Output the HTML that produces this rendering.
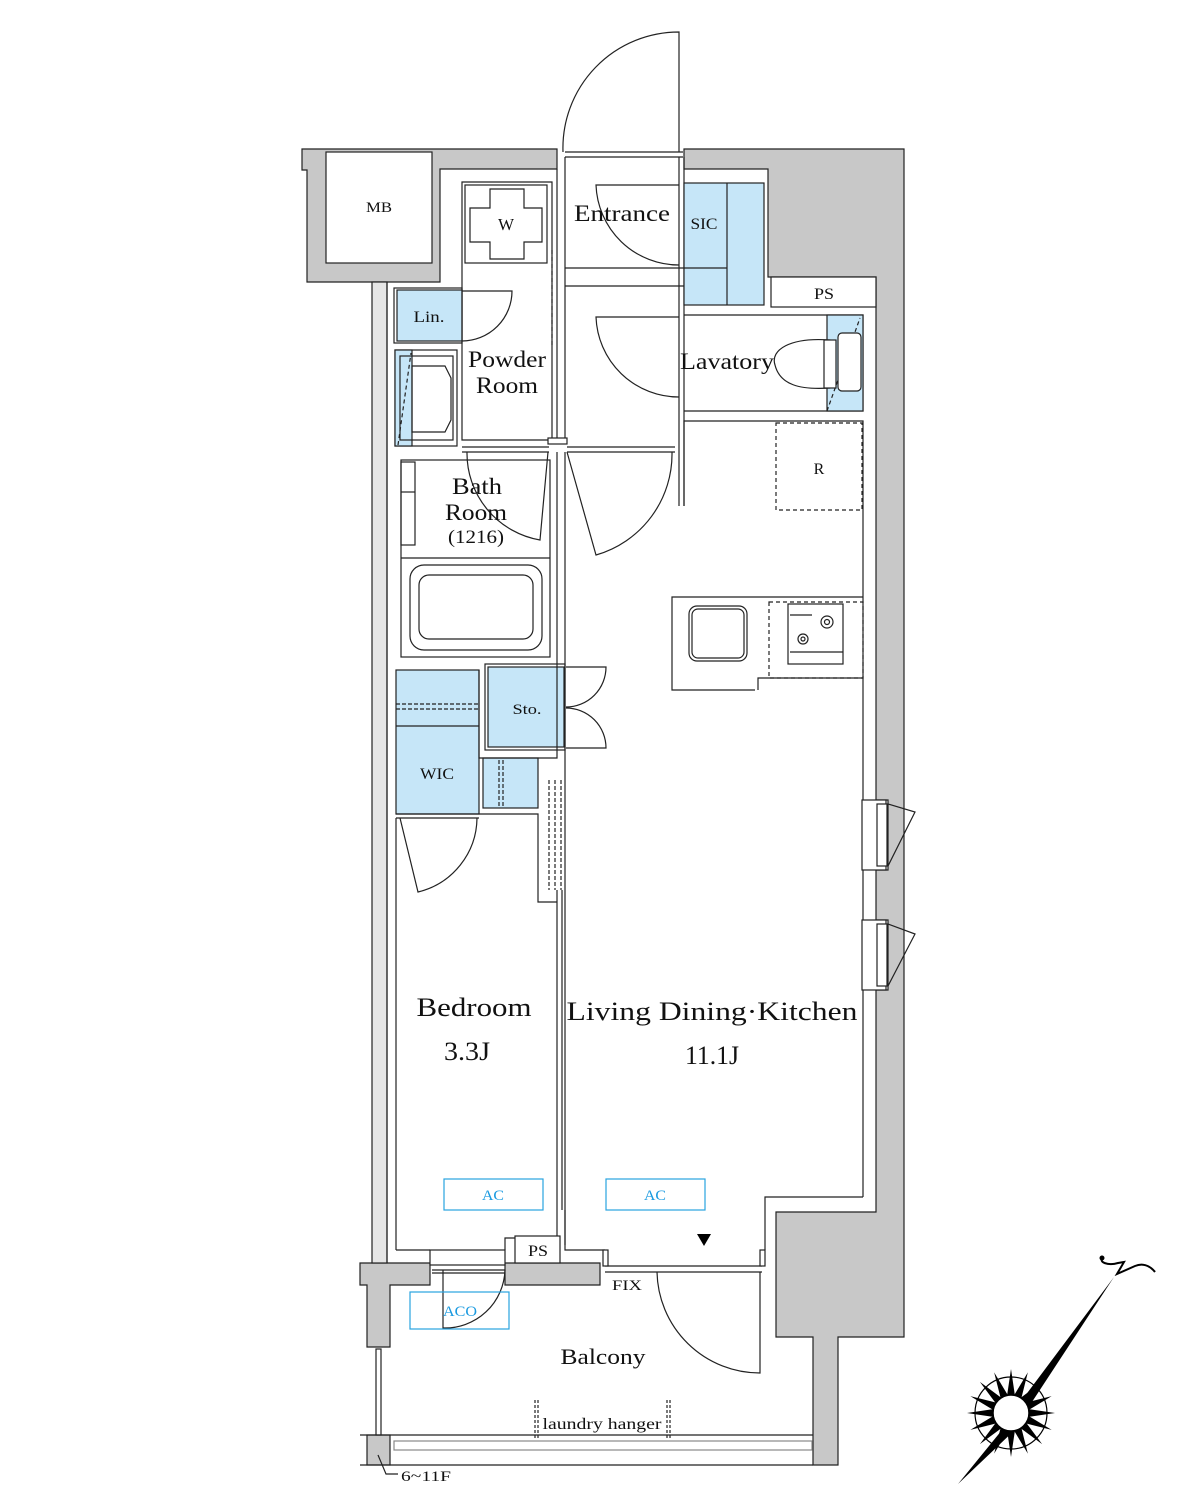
<!DOCTYPE html>
<html><head><meta charset="utf-8"><style>
html,body{margin:0;padding:0;background:#fff}
svg{display:block}
text{font-family:"Liberation Serif",serif;fill:#111}
</style></head><body>
<svg width="1200" height="1512" viewBox="0 0 1200 1512" xmlns="http://www.w3.org/2000/svg">
<g stroke="#222" stroke-width="1.2" fill="none">
<g fill="#c8c8c8">
<path d="M302,149 H557 V169 H440 V282 H307 V170 H302 Z"/>
<path d="M684,149 H904 V1337 H838 V1465 H813 V1337 H776 V1212 H876 V990 H888 V920 H876 V870 H888 V800 H876 V277 H768 V169 H684 Z"/>
<path d="M360,1263 H430 V1285 H390 V1347 H367 V1285 H360 Z"/>
<path d="M505,1263 H600 V1285 H505 Z"/>
<rect x="367" y="1435" width="23" height="30"/>
</g>
<rect x="326" y="152" width="106" height="111" fill="#fff"/>
<rect x="372" y="282" width="15" height="981" fill="#e6e6e6"/>
<line x1="565" y1="152" x2="683" y2="152"/><line x1="565" y1="157" x2="683" y2="157"/>
<path d="M679,152 V32 A116,116 0 0 0 563,152"/>
<line x1="565" y1="157" x2="565" y2="440"/><line x1="557" y1="169" x2="557" y2="440"/>
<line x1="565" y1="268" x2="684" y2="268"/><line x1="565" y1="286" x2="684" y2="286"/>
<line x1="679" y1="157" x2="679" y2="506"/><line x1="684" y1="157" x2="684" y2="506"/>
<path d="M679,185 H596 A83,83 0 0 0 679,265"/>
<path d="M679,317 H596 A83,83 0 0 0 679,397"/>
<rect x="684" y="183" width="80" height="122" fill="#c6e6f8"/>
<line x1="727" y1="183" x2="727" y2="305"/><line x1="684" y1="268" x2="727" y2="268"/>
<rect x="771" y="277" width="105" height="30" fill="#fff"/>
<path d="M684,315 H863 V411 H684"/>
<rect x="827" y="315" width="36" height="96" fill="#c6e6f8"/>
<line x1="827" y1="411" x2="860" y2="318" stroke-dasharray="4,3"/>
<path d="M830,340 C790,337 770,350 775,365 C780,385 800,390 830,388 Z" fill="#fff"/>
<rect x="824" y="340" width="12" height="48" fill="#fff"/>
<rect x="838" y="333" width="23" height="58" rx="4" fill="#fff"/>
<path d="M684,506 V421 H863 V597"/>
<rect x="776" y="423" width="86" height="87" stroke-dasharray="4,3"/>
<path d="M462,182 H552 V440 H462 Z"/>
<rect x="465" y="185" width="82" height="78"/>
<path d="M490,189 H524 V208 H542 V242 H524 V259 H490 V242 H470 V208 H490 Z"/>
<line x1="552" y1="250" x2="552" y2="345" stroke-dasharray="4,3"/>
<rect x="397" y="290" width="65" height="51" fill="#c6e6f8"/>
<rect x="394" y="288" width="68" height="55"/>
<path d="M462,291 H512 A50,50 0 0 1 462,341"/>
<rect x="395" y="350" width="62" height="96"/>
<rect x="395" y="350" width="17" height="96" fill="#c6e6f8"/>
<rect x="400" y="356" width="53" height="84"/>
<path d="M412,366 H445 L451,378 V420 L445,432 H412 Z"/>
<line x1="398" y1="445" x2="411" y2="353" stroke-dasharray="4,3"/>
<line x1="462" y1="447" x2="549" y2="447"/><line x1="462" y1="452" x2="549" y2="452"/>
<rect x="548" y="438" width="19" height="6" fill="#fff"/>
<line x1="567" y1="447" x2="675" y2="447"/><line x1="567" y1="452" x2="675" y2="452"/>
<path d="M567,452 L596,555 A105,105 0 0 0 672,452"/>
<rect x="401" y="460" width="149" height="197"/>
<rect x="401" y="462" width="14" height="83"/><line x1="401" y1="492" x2="415" y2="492"/>
<path d="M548,452 L540,540 A88,88 0 0 1 467,452"/>
<line x1="401" y1="558" x2="550" y2="558"/>
<rect x="410" y="565" width="132" height="85" rx="14"/>
<rect x="419" y="575" width="114" height="64" rx="10"/>
<line x1="557" y1="452" x2="557" y2="667"/><line x1="565" y1="452" x2="565" y2="1245"/>
<rect x="396" y="670" width="83" height="144" fill="#c6e6f8"/>
<line x1="396" y1="726" x2="479" y2="726"/>
<line x1="396" y1="704" x2="479" y2="704" stroke-dasharray="4,2"/><line x1="396" y1="709" x2="479" y2="709" stroke-dasharray="4,2"/>
<rect x="483" y="758" width="55" height="50" fill="#c6e6f8"/>
<line x1="499" y1="760" x2="499" y2="806" stroke-dasharray="4,2"/><line x1="503" y1="760" x2="503" y2="806" stroke-dasharray="4,2"/>
<rect x="488" y="667" width="76" height="80" fill="#c6e6f8"/>
<rect x="485" y="664" width="80" height="86"/>
<path d="M479,670 V758 H557 V667"/>
<path d="M566,667 H606 A40,40 0 0 1 566,707"/>
<path d="M566,748 H606 A40,40 0 0 0 566,708"/>
<path d="M396,814 H479 M396,818 H479"/>
<path d="M400,818 L418,892 A77,77 0 0 0 477,818"/>
<path d="M479,814 H538 V902 H557"/>
<line x1="549" y1="780" x2="549" y2="890" stroke-dasharray="4,2"/><line x1="555" y1="780" x2="555" y2="890" stroke-dasharray="4,2"/><line x1="561" y1="780" x2="561" y2="890" stroke-dasharray="4,2"/>
<line x1="557" y1="890" x2="557" y2="1210"/><line x1="562" y1="890" x2="562" y2="1210"/>
<line x1="396" y1="818" x2="396" y2="1250"/><line x1="387" y1="282" x2="387" y2="1263"/>
<path d="M863,597 H672 V690 H755 M863,678 H758 V690"/>
<rect x="689" y="606" width="58" height="55" rx="8"/><rect x="692" y="609" width="52" height="49" rx="6"/>
<rect x="769" y="602" width="94" height="76" stroke-dasharray="4,3"/>
<rect x="788" y="604" width="55" height="60"/>
<circle cx="827" cy="622" r="6"/><circle cx="827" cy="622" r="2.5"/>
<circle cx="803" cy="639" r="5"/><circle cx="803" cy="639" r="2"/>
<line x1="790" y1="615" x2="812" y2="615"/><line x1="790" y1="652" x2="843" y2="652"/>
<line x1="863" y1="597" x2="863" y2="1197"/>
<g fill="#fff">
<rect x="862" y="800" width="24" height="70"/><rect x="877" y="804" width="10" height="62"/>
<rect x="862" y="920" width="24" height="70"/><rect x="877" y="924" width="10" height="62"/>
</g>
<path d="M888,804 L915,812 L888,866"/><path d="M888,924 L915,934 L888,986"/>
<path d="M863,1197 H765 V1250"/>
<path d="M565,1210 V1250 H605"/>
<path d="M396,1250 H430 M505,1250 V1238 H557 V1210"/>
<rect x="515" y="1236" width="45" height="27" fill="#fff"/>
<rect x="430" y="1250" width="75" height="15" fill="#fff"/>
<line x1="432" y1="1270" x2="505" y2="1270"/><line x1="432" y1="1273" x2="505" y2="1273"/>
<path d="M443,1270 V1328 A60,60 0 0 0 505,1270"/>
<line x1="605" y1="1266" x2="762" y2="1266"/><line x1="605" y1="1272" x2="762" y2="1272"/>
<rect x="603" y="1250" width="5" height="16" fill="#fff"/><rect x="760" y="1250" width="5" height="16" fill="#fff"/>
<path d="M657,1272 A103,103 0 0 0 760,1373 V1272"/>
<rect x="376" y="1349" width="5" height="86" fill="#fff"/>
<line x1="360" y1="1435" x2="813" y2="1435"/><line x1="360" y1="1465" x2="813" y2="1465"/>
<rect x="394" y="1441" width="418" height="9" fill="#fff" stroke="#888"/>
<line x1="535" y1="1400" x2="535" y2="1440" stroke-dasharray="3,2"/><line x1="538" y1="1400" x2="538" y2="1440" stroke-dasharray="3,2"/>
<line x1="667" y1="1400" x2="667" y2="1440" stroke-dasharray="3,2"/><line x1="670" y1="1400" x2="670" y2="1440" stroke-dasharray="3,2"/>
<path d="M378,1455 L386,1474 H398"/>
</g>
<g stroke="#29a3e0" stroke-width="1.2" fill="none">
<rect x="444" y="1179" width="99" height="31"/><rect x="606" y="1179" width="99" height="31"/><rect x="410" y="1292" width="99" height="37"/>
</g>
<g font-size="15" text-anchor="middle">
<text x="493" y="1200" style="fill:#1a9ae0" textLength="22" lengthAdjust="spacingAndGlyphs">AC</text><text x="655" y="1200" style="fill:#1a9ae0" textLength="22" lengthAdjust="spacingAndGlyphs">AC</text><text x="460" y="1316" style="fill:#1a9ae0" textLength="34" lengthAdjust="spacingAndGlyphs">ACO</text>
</g>
<polygon points="697,1234 711,1234 704,1246" fill="#000"/>
<g text-anchor="middle" lengthAdjust="spacingAndGlyphs">
<text x="379" y="212" font-size="15" textLength="26" lengthAdjust="spacingAndGlyphs">MB</text>
<text x="506" y="230" font-size="17">W</text>
<text x="622" y="221" font-size="23" textLength="96" lengthAdjust="spacingAndGlyphs">Entrance</text>
<text x="704" y="229" font-size="16" textLength="27" lengthAdjust="spacingAndGlyphs">SIC</text>
<text x="824" y="299" font-size="16" textLength="20" lengthAdjust="spacingAndGlyphs">PS</text>
<text x="429" y="322" font-size="16" textLength="31" lengthAdjust="spacingAndGlyphs">Lin.</text>
<text x="507" y="367" font-size="23" textLength="78" lengthAdjust="spacingAndGlyphs">Powder</text><text x="507" y="393" font-size="23" textLength="62" lengthAdjust="spacingAndGlyphs">Room</text>
<text x="727" y="369" font-size="23" textLength="94" lengthAdjust="spacingAndGlyphs">Lavatory</text>
<text x="819" y="474" font-size="16">R</text>
<text x="477" y="494" font-size="23" textLength="50" lengthAdjust="spacingAndGlyphs">Bath</text><text x="476" y="520" font-size="23" textLength="62" lengthAdjust="spacingAndGlyphs">Room</text><text x="476" y="543" font-size="19" textLength="56" lengthAdjust="spacingAndGlyphs">(1216)</text>
<text x="527" y="714" font-size="15" textLength="29" lengthAdjust="spacingAndGlyphs">Sto.</text>
<text x="437" y="779" font-size="16" textLength="34" lengthAdjust="spacingAndGlyphs">WIC</text>
<text x="474" y="1016" font-size="26" textLength="115" lengthAdjust="spacingAndGlyphs">Bedroom</text><text x="467" y="1060" font-size="26" textLength="46" lengthAdjust="spacingAndGlyphs">3.3J</text>
<text x="712" y="1020" font-size="26" textLength="291" lengthAdjust="spacingAndGlyphs">Living Dining·Kitchen</text><text x="712" y="1064" font-size="26" textLength="54" lengthAdjust="spacingAndGlyphs">11.1J</text>
<text x="538" y="1256" font-size="16" textLength="20" lengthAdjust="spacingAndGlyphs">PS</text>
<text x="627" y="1290" font-size="15" textLength="30" lengthAdjust="spacingAndGlyphs">FIX</text>
<text x="603" y="1364" font-size="22" textLength="85" lengthAdjust="spacingAndGlyphs">Balcony</text>
<text x="602" y="1429" font-size="16" textLength="119" lengthAdjust="spacingAndGlyphs">laundry hanger</text>
<text x="426" y="1481" font-size="15" textLength="50" lengthAdjust="spacingAndGlyphs">6~11F</text>
</g>
<g transform="translate(1011,1413)">
<circle r="36" fill="none" stroke="#000" stroke-width="1.2"/>
<g fill="#000">
<polygon points="-4,-17 4,-17 0,-44" transform="rotate(0)"/>
<polygon points="-4,-17 4,-17 0,-44" transform="rotate(22.5)"/>
<polygon points="-4,-17 4,-17 0,-44" transform="rotate(45)"/>
<polygon points="-4,-17 4,-17 0,-44" transform="rotate(67.5)"/>
<polygon points="-4,-17 4,-17 0,-44" transform="rotate(90)"/>
<polygon points="-4,-17 4,-17 0,-44" transform="rotate(112.5)"/>
<polygon points="-4,-17 4,-17 0,-44" transform="rotate(135)"/>
<polygon points="-4,-17 4,-17 0,-44" transform="rotate(157.5)"/>
<polygon points="-4,-17 4,-17 0,-44" transform="rotate(180)"/>
<polygon points="-4,-17 4,-17 0,-44" transform="rotate(202.5)"/>
<polygon points="-4,-17 4,-17 0,-44" transform="rotate(225)"/>
<polygon points="-4,-17 4,-17 0,-44" transform="rotate(247.5)"/>
<polygon points="-4,-17 4,-17 0,-44" transform="rotate(270)"/>
<polygon points="-4,-17 4,-17 0,-44" transform="rotate(292.5)"/>
<polygon points="-4,-17 4,-17 0,-44" transform="rotate(315)"/>
<polygon points="-4,-17 4,-17 0,-44" transform="rotate(337.5)"/>
</g>
</g>
<polygon points="958,1484 1002,1430 1022,1400 1114,1277 1030,1405 1020,1425" fill="#000"/>
<circle cx="1011" cy="1413" r="18" fill="#fff" stroke="#000" stroke-width="1.5"/>
<path d="M1103,1258 C1098,1262 1108,1266 1118,1263 L1124,1262 L1117,1274 L1135,1266 C1145,1262 1152,1268 1155,1272" fill="none" stroke="#000" stroke-width="2"/>
<circle cx="1102" cy="1258" r="2.5" fill="#000"/>
</svg>
</body></html>
